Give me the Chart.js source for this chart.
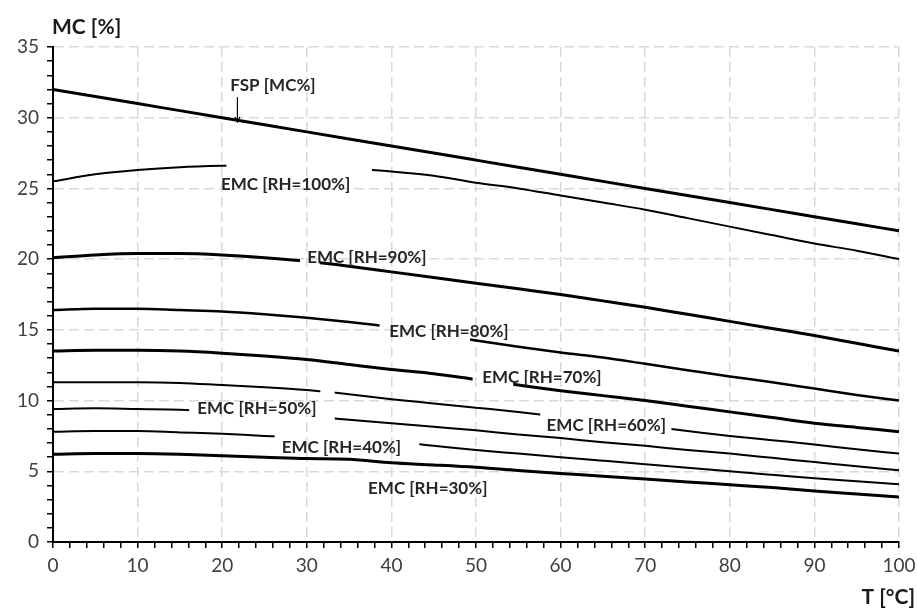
<!DOCTYPE html>
<html>
<head>
<meta charset="utf-8">
<script src="https://cdn.jsdelivr.net/npm/chart.js@4.4.0/dist/chart.umd.min.js"></script>
<style>
  html, body { margin: 0; padding: 0; background: #fff; }
  #wrap { width: 917px; height: 610px; position: relative; }
</style>
</head>
<body>
<div id="wrap"><canvas id="chart"></canvas></div>
<script>
// Temperatura [°C]
const temps = [0, 5, 10, 15, 20, 25, 30, 35, 40, 45, 50, 55, 60, 65, 70, 75, 80, 85, 90, 95, 100];

// Curvas (MC %)
const fsp   = [32, 31.5, 31, 30.5, 30, 29.5, 29, 28.5, 28, 27.5, 27, 26.5, 26, 25.5, 25, 24.5, 24, 23.5, 23, 22.5, 22];
const rh100 = [25.5, 26.0, 26.3, 26.5, 26.6, 26.65, 26.6, 26.4, 26.2, 25.9, 25.4, 25.0, 24.5, 24.0, 23.5, 22.9, 22.3, 21.7, 21.1, 20.6, 20.0];
const rh90  = [20.1, 20.3, 20.4, 20.4, 20.3, 20.1, 19.85, 19.5, 19.1, 18.7, 18.3, 17.9, 17.5, 17.05, 16.6, 16.1, 15.6, 15.1, 14.6, 14.05, 13.5];
const rh80  = [16.4, 16.5, 16.5, 16.4, 16.3, 16.1, 15.85, 15.55, 15.2, 14.75, 14.25, 13.8, 13.4, 13.05, 12.6, 12.15, 11.7, 11.3, 10.85, 10.4, 10.0];
const rh70  = [13.5, 13.55, 13.55, 13.5, 13.35, 13.15, 12.9, 12.55, 12.2, 11.9, 11.5, 11.1, 10.7, 10.35, 10.0, 9.6, 9.2, 8.8, 8.4, 8.1, 7.8];
const rh60  = [11.3, 11.3, 11.3, 11.25, 11.1, 10.95, 10.75, 10.45, 10.1, 9.8, 9.5, 9.2, 8.85, 8.5, 8.2, 7.85, 7.5, 7.2, 6.9, 6.55, 6.25];
const rh50  = [9.4, 9.45, 9.4, 9.35, 9.2, 9.05, 8.9, 8.65, 8.4, 8.15, 7.9, 7.6, 7.35, 7.05, 6.8, 6.5, 6.25, 5.95, 5.65, 5.35, 5.07];
const rh40  = [7.8, 7.85, 7.85, 7.75, 7.65, 7.5, 7.4, 7.25, 7.1, 6.8, 6.5, 6.25, 6.0, 5.75, 5.5, 5.25, 5.0, 4.75, 4.5, 4.3, 4.08];
const rh30  = [6.2, 6.25, 6.25, 6.2, 6.1, 6.0, 5.9, 5.85, 5.6, 5.45, 5.28, 5.05, 4.85, 4.65, 4.45, 4.25, 4.05, 3.85, 3.6, 3.4, 3.18];

// Rótulos das curvas
const labels = ['FSP [MC%]', 'EMC [RH=100%]', 'EMC [RH=90%]', 'EMC [RH=80%]', 'EMC [RH=70%]',
                'EMC [RH=60%]', 'EMC [RH=50%]', 'EMC [RH=40%]', 'EMC [RH=30%]'];

const series = [fsp, rh100, rh90, rh80, rh70, rh60, rh50, rh40, rh30];
const widths = [3, 2, 3, 2.5, 3, 2, 2, 2, 3];

// Trechos interrompidos onde ficam os textos (em °C)
const gaps = [
    [],
    [[20.5, 37.7]],
    [[29.2, 31.5]],
    [[38.6, 49.3]],
    [[49.6, 54.4]],
    [[31.6, 33.3], [57.6, 73.1]],
    [[16.1, 33.3]],
    [[26.2, 43.3]],
    []
];

// Posição dos textos (em unidades dos eixos)
const labelPos = [
    [26.0, 32.3], [27.5, 25.3], [37.1, 20.1], [46.8, 14.85], [57.8, 11.6],
    [65.4, 8.25], [24.1, 9.45], [34.1, 6.7], [44.3, 3.8]
];
const fspArrow = { x: 21.8, from: 31.45, to: 29.7 };

const FONT = 'Lato, "Open Sans", sans-serif';

// Recorta as linhas nos trechos de texto
const gapPlugin = {
    id: 'gapPlugin',
    beforeDatasetDraw(chart, args) {
        const g = gaps[args.index] || [];
        const ctx = chart.ctx;
        ctx.save();
        if (!g.length) return;
        const xs = chart.scales.x;
        ctx.beginPath();
        ctx.rect(0, 0, chart.width, chart.height);
        g.forEach(([a, b]) => {
            const x0 = xs.getPixelForValue(a);
            const x1 = xs.getPixelForValue(b);
            ctx.rect(x0, 0, x1 - x0, chart.height);
        });
        ctx.clip('evenodd');
    },
    afterDatasetDraw(chart) {
        chart.ctx.restore();
    }
};

// Textos, seta e títulos dos eixos
const textPlugin = {
    id: 'textPlugin',
    afterDatasetsDraw(chart) {
        const { ctx, scales: { x, y }, chartArea } = chart;
        ctx.save();
        ctx.fillStyle = '#262626';
        ctx.font = 'bold 17px ' + FONT;
        ctx.textAlign = 'center';
        ctx.textBaseline = 'middle';
        labels.forEach((txt, i) => {
            const [lx, ly] = labelPos[i];
            ctx.fillText(txt, x.getPixelForValue(lx), y.getPixelForValue(ly));
        });

        // seta do FSP
        const ax = x.getPixelForValue(fspArrow.x);
        const ay0 = y.getPixelForValue(fspArrow.from);
        const ay1 = y.getPixelForValue(fspArrow.to);
        ctx.strokeStyle = '#000';
        ctx.lineWidth = 1.2;
        ctx.beginPath();
        ctx.moveTo(ax, ay0);
        ctx.lineTo(ax, ay1);
        ctx.stroke();
        ctx.beginPath();
        ctx.moveTo(ax - 2.5, ay1 - 5);
        ctx.lineTo(ax, ay1);
        ctx.lineTo(ax + 2.5, ay1 - 5);
        ctx.stroke();

        // títulos dos eixos
        ctx.fillStyle = '#1a1a1a';
        ctx.font = 'bold 21px ' + FONT;
        ctx.textAlign = 'left';
        ctx.fillText('MC [%]', chartArea.left - 1, 27);
        ctx.textAlign = 'right';
        ctx.fillText('T [°C]', chart.width - 2, 597);
        ctx.restore();
    }
};

const datasets = series.map((data, i) => ({
    label: labels[i],
    data: data.map((v, k) => ({ x: temps[k], y: v })),
    borderColor: '#000',
    borderWidth: widths[i],
    pointRadius: 0,
    fill: false,
    cubicInterpolationMode: 'monotone'
}));

const gridColor = (major) => (ctx) =>
    ctx.tick && ctx.tick.value % major === 0 ? '#d9d9d9' : 'rgba(0,0,0,0)';

new Chart(document.getElementById('chart'), {
    type: 'line',
    data: { datasets },
    plugins: [gapPlugin, textPlugin],
    options: {
        responsive: true,
        maintainAspectRatio: false,
        animation: false,
        layout: { padding: { top: 47, right: 18, left: 0, bottom: 0 } },
        plugins: {
            legend: { display: false },
            tooltip: { enabled: false }
        },
        scales: {
            x: {
                type: 'linear',
                min: 0,
                max: 100,
                afterFit: (scale) => {
                    scale.height = 68;
                    scale.paddingLeft = 0;
                    scale.paddingRight = 0;
                },
                ticks: {
                    stepSize: 2,
                    autoSkip: false,
                    maxRotation: 0,
                    padding: 6,
                    color: '#404040',
                    font: { family: FONT, size: 19 },
                    callback: (v) => (v % 10 === 0 ? v : '')
                },
                grid: {
                    color: gridColor(10),
                    lineWidth: 1.5,
                    tickColor: '#000',
                    tickLength: 6,
                    tickWidth: 1.5
                },
                border: { color: '#000', width: 2, dash: [10, 5] }
            },
            y: {
                min: 0,
                max: 35,
                afterFit: (scale) => {
                    scale.width = 53;
                    scale.paddingTop = 0;
                    scale.paddingBottom = 0;
                },
                ticks: {
                    stepSize: 1,
                    autoSkip: false,
                    padding: 8,
                    color: '#404040',
                    font: { family: FONT, size: 19 },
                    callback: (v) => (v % 5 === 0 ? v : '')
                },
                grid: {
                    color: gridColor(5),
                    lineWidth: 1.5,
                    tickColor: '#000',
                    tickLength: 6,
                    tickWidth: 1.5
                },
                border: { color: '#000', width: 2, dash: [10, 5] }
            }
        }
    }
});
</script>
</body>
</html>
